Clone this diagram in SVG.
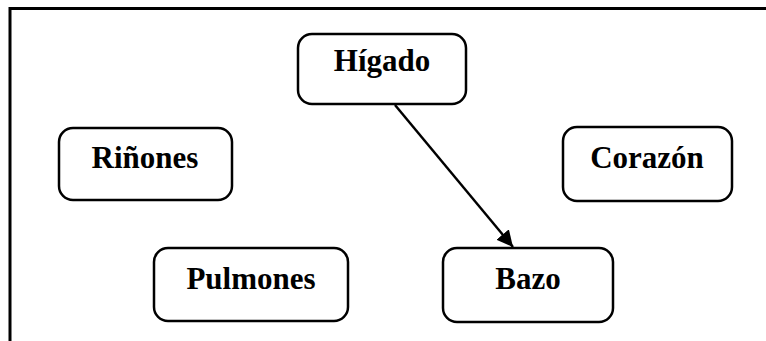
<svg xmlns="http://www.w3.org/2000/svg" width="766" height="341" viewBox="0 0 766 341">
  <style>
    .frame { fill: none; stroke: #000; stroke-width: 3; }
    .box { fill: #fff; stroke: #000; stroke-width: 2.5; }
    .label { font-family: "Liberation Serif", "Times New Roman", serif; font-weight: bold; font-size: 31px; fill: #000; text-anchor: middle; }
    .link { stroke: #000; stroke-width: 2.5; fill: none; }
  </style>
  <defs>
    <marker id="arrowhead" viewBox="0 0 10 10" refX="10" refY="5" markerWidth="6.5" markerHeight="6.5" markerUnits="strokeWidth" orient="auto">
      <path d="M0,0 L10,5 L0,10 z" fill="#000"/>
    </marker>
  </defs>

  <!-- outer frame: top and left edges -->
  <path class="frame" d="M10,341 L10,8.5 L766,8.5"/>

  <g id="connectors">
    <line class="link" x1="395" y1="105" x2="513" y2="247" marker-end="url(#arrowhead)"/>
  </g>

  <g id="node-higado">
    <rect class="box" x="298" y="34" width="168" height="70" rx="14" ry="14"/>
    <text class="label" x="382" y="71">Hígado</text>
  </g>

  <g id="node-rinones">
    <rect class="box" x="59" y="128" width="173" height="72" rx="14" ry="14"/>
    <text class="label" x="145" y="168">Riñones</text>
  </g>

  <g id="node-corazon">
    <rect class="box" x="563" y="127" width="169" height="74" rx="14" ry="14"/>
    <text class="label" x="647" y="168">Corazón</text>
  </g>

  <g id="node-pulmones">
    <rect class="box" x="154" y="248" width="194" height="73" rx="14" ry="14"/>
    <text class="label" x="251" y="289">Pulmones</text>
  </g>

  <g id="node-bazo">
    <rect class="box" x="443" y="248" width="170" height="74" rx="14" ry="14"/>
    <text class="label" x="528" y="289">Bazo</text>
  </g>
</svg>
